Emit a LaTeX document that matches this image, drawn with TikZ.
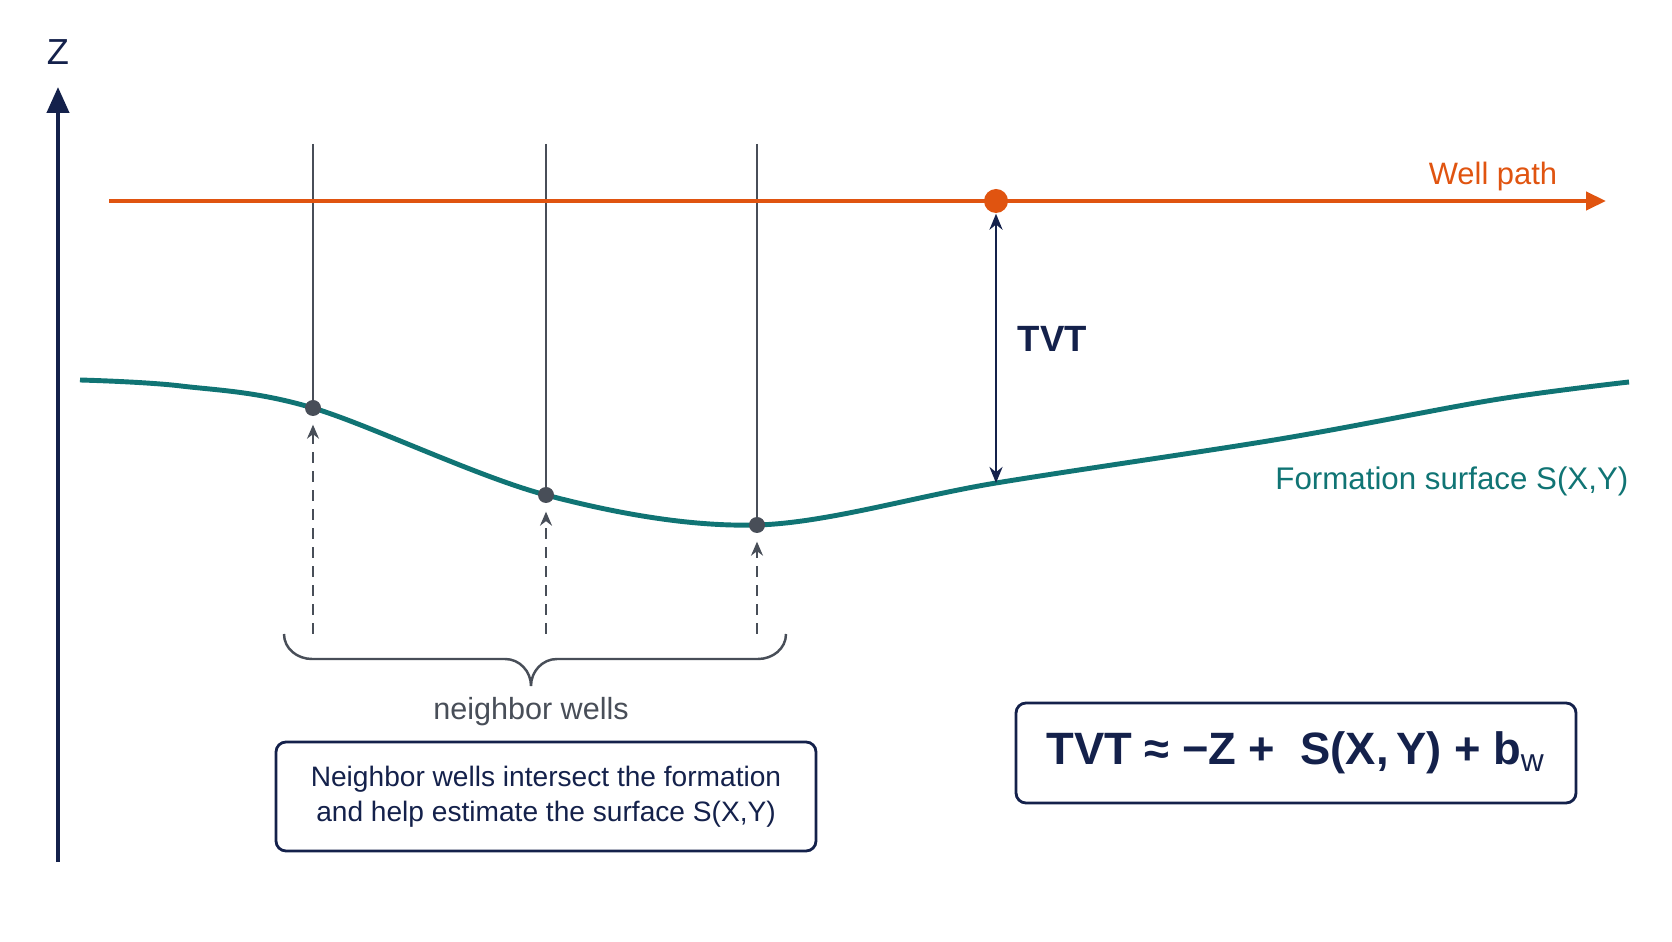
\documentclass[tikz,border=0pt]{standalone}
\usepackage{fontspec}
\setmainfont{Liberation Sans}
\usepackage{xcolor}
\usetikzlibrary{arrows.meta,positioning,calc}

\definecolor{navy}{RGB}{20,33,75}
\definecolor{wpcolor}{RGB}{224,84,16}
\definecolor{surfteal}{RGB}{16,116,116}
\definecolor{wellgray}{RGB}{72,78,88}

\begin{document}
\begin{tikzpicture}[
    x=1cm, y=1cm,
    axis/.style={navy, line width=1.2pt, -{Triangle[length=2.6mm, width=2.2mm]}},
    wellpath/.style={wpcolor, line width=1.2pt, -{Triangle[length=2mm, width=1.8mm]}},
    surface/.style={surfteal, line width=1.4pt},
    well/.style={wellgray, line width=0.8pt},
    hit/.style={circle, fill=wellgray, inner sep=0pt, minimum size=1.6mm},
    probe/.style={wellgray, line width=0.5pt, dash pattern=on 1.1mm off 0.8mm,
                  -{Stealth[length=1.4mm, width=1.2mm]}},
    tvtarr/.style={navy, line width=0.8pt,
                   {Stealth[length=1.6mm, width=1.3mm]}-{Stealth[length=1.6mm, width=1.3mm]}},
    brace/.style={wellgray, line width=0.7pt},
    infobox/.style={rectangle, draw=navy, line width=0.8pt, rounded corners=1mm,
                    fill=white, align=center, text=navy},
]
\useasboundingbox (0,0) rectangle (16.72,9.41);

% Z axis
\coordinate (zbot) at (0.58,0.79);
\coordinate (ztop) at (0.58,8.54);
\draw[axis] (zbot) -- (ztop);
\node[text=navy, font=\fontsize{10.3}{12}\selectfont] (zlab) at (0.58,8.89) {Z};

% Neighbor wells (vertical lines down to the surface)
\foreach \x/\y/\n in {3.13/5.33/1, 5.46/4.46/2, 7.57/4.16/3} {
    \coordinate (top\n) at (\x,7.97);
    \coordinate (hitpt\n) at (\x,\y);
    \draw[well] (top\n) -- (hitpt\n);
}

% Formation surface
\draw[surface] plot[smooth, tension=0.55] coordinates
    {(0.80,5.61) (1.81,5.55) (3.13,5.33) (5.46,4.46) (7.57,4.16)
     (9.96,4.58) (12.80,5.02) (14.93,5.41) (16.29,5.59)};
\node[text=surfteal, anchor=east, inner sep=0pt, font=\fontsize{8.9}{11}\selectfont] (surflab)
    at (16.29,4.60) {Formation surface S(X,Y)};

% Well path
\coordinate (wpstart) at (1.09,7.40);
\coordinate (wpend) at (16.06,7.40);
\draw[wellpath] (wpstart) -- (wpend);
\node[text=wpcolor, font=\fontsize{8.8}{11}\selectfont] (wplab) at (14.93,7.64) {Well path};
\node[circle, fill=wpcolor, inner sep=0pt, minimum size=2.4mm] (wpdot) at (9.96,7.40) {};

% Intersection points and pointers
\foreach \n in {1,2,3} {
    \node[hit] (hit\n) at (hitpt\n) {};
    \coordinate (foot\n) at ($(hitpt\n |- 0,3.07)$);
    \draw[probe] (foot\n) -- ([yshift=-0.8mm]hit\n.south);
}

% TVT
\coordinate (tvtfoot) at (9.96,4.58);
\draw[tvtarr] (wpdot.south) -- (tvtfoot);
\node[text=navy, anchor=west, inner sep=0pt, font=\bfseries\fontsize{10.4}{12}\selectfont] (tvtlab)
    at (10.17,6.02) {TVT};

% Brace
\coordinate (braceL) at (2.84,3.07);
\coordinate (braceR) at (7.86,3.07);
\coordinate (braceTip) at (5.31,2.55);
\draw[brace] (braceL) to[out=-90, in=180] (3.12,2.82) -- (5.05,2.82)
    to[out=0, in=90] (braceTip) to[out=90, in=180] (5.57,2.82) -- (7.58,2.82)
    to[out=0, in=-90] (braceR);
\node[text=wellgray, font=\fontsize{8.7}{11}\selectfont] (nblab) at (5.31,2.29) {neighbor wells};

% Info boxes
\node[infobox, minimum width=5.4cm, minimum height=1.09cm,
      font=\fontsize{8}{9.96}\selectfont] (note) at (5.46,1.445)
    {Neighbor wells intersect the formation\\and help estimate the surface S(X,Y)};
\node[infobox, minimum width=5.6cm, minimum height=1.0cm,
      font=\bfseries\fontsize{12.9}{15}\selectfont] (formula) at (12.96,1.88)
    {TVT ≈ −Z +\ \ S(X,\,Y) + b\textsubscript{\mdseries w}};

\end{tikzpicture}
\end{document}
